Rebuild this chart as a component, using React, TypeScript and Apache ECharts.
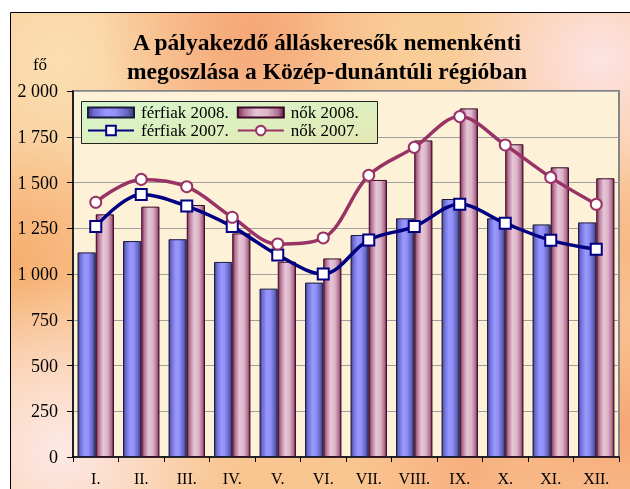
import React, { useEffect, useRef } from "react";
import * as echarts from "echarts";

const months = ["I.", "II.", "III.", "IV.", "V.", "VI.", "VII.", "VIII.", "IX.", "X.", "XI.", "XII."];
const ferfiak2008 = [1118, 1180, 1190, 1066, 920, 953, 1213, 1304, 1410, 1304, 1271, 1282];
const nok2008 = [1326, 1368, 1377, 1222, 1067, 1085, 1514, 1730, 1905, 1709, 1583, 1523];
const ferfiak2007 = [1259, 1435, 1371, 1259, 1104, 1000, 1186, 1259, 1381, 1277, 1184, 1135];
const nok2007 = [1392, 1517, 1477, 1310, 1164, 1197, 1539, 1692, 1860, 1705, 1528, 1381];
const seriesNames = ["férfiak 2008.", "nők 2008.", "férfiak 2007.", "nők 2007."];
const titleLines = ["A pályakezdő álláskeresők nemenkénti", "megoszlása a Közép-dunántúli régióban"];
const unitLabel = "fő";

const FONT = '"Liberation Serif", "Times New Roman", serif';

const fmt = (v: number) =>
  v >= 1000 ? `${Math.floor(v / 1000)} ${String(v % 1000).padStart(3, "0")}` : String(v);

const blueGrad = {
  type: "linear", x: 0, y: 0, x2: 1, y2: 0,
  colorStops: [
    { offset: 0, color: "#3c3c80" },
    { offset: 0.12, color: "#6a6ad0" },
    { offset: 0.4, color: "#9898ff" },
    { offset: 0.6, color: "#9090f8" },
    { offset: 0.85, color: "#6464c0" },
    { offset: 1, color: "#3a3a78" },
  ],
};
const pinkGrad = {
  type: "linear", x: 0, y: 0, x2: 1, y2: 0,
  colorStops: [
    { offset: 0, color: "#7a2a58" },
    { offset: 0.15, color: "#b87898" },
    { offset: 0.4, color: "#e6c6d6" },
    { offset: 0.65, color: "#dcb4c8" },
    { offset: 0.88, color: "#b07090" },
    { offset: 1, color: "#6a2048" },
  ],
};

const spot = (cx: number, cy: number, r: number, color: string) => ({
  type: "circle",
  z: -9,
  silent: true,
  shape: { cx, cy, r },
  style: {
    fill: {
      type: "radial", x: 0.5, y: 0.5, r: 0.5,
      colorStops: [
        { offset: 0, color },
        { offset: 1, color: color.replace(/[\d.]+\)$/, "0)") },
      ],
    },
  },
});

export default function App() {
  const ref = useRef<HTMLDivElement>(null);
  useEffect(() => {
    if (!ref.current) return;
    const chart = echarts.init(ref.current, null, { renderer: "svg" });
    chart.setOption({
      animation: false,
      textStyle: { fontFamily: FONT },
      graphic: [
        { type: "rect", z: -10, silent: true, shape: { x: 0, y: 0, width: 630, height: 489 }, style: { fill: "#ffffff" } },
        {
          type: "group", z: -9, silent: true,
          clipPath: { type: "rect", shape: { x: 11, y: 13, width: 619, height: 476 } },
          children: [
            { type: "rect", z: -9, shape: { x: 11, y: 13, width: 619, height: 476 }, style: { fill: "#f9c898" } },
            spot(60, 60, 160, "rgba(251,226,180,0.9)"),
            spot(250, 30, 150, "rgba(245,160,112,0.85)"),
            spot(430, 40, 130, "rgba(250,206,150,0.8)"),
            spot(600, 60, 150, "rgba(253,228,230,0.95)"),
            spot(15, 260, 130, "rgba(245,168,100,0.8)"),
            spot(60, 450, 170, "rgba(253,234,234,0.95)"),
            spot(300, 490, 150, "rgba(249,196,140,0.8)"),
            spot(470, 470, 120, "rgba(246,168,118,0.8)"),
            spot(625, 430, 130, "rgba(246,160,110,0.85)"),
            spot(625, 250, 100, "rgba(247,180,130,0.8)"),
          ],
        },
        { type: "line", z: -8, silent: true, shape: { x1: 10.5, y1: 12.5, x2: 630, y2: 12.5 }, style: { stroke: "#000", lineWidth: 1 } },
        { type: "line", z: -8, silent: true, shape: { x1: 10.5, y1: 12.5, x2: 10.5, y2: 489 }, style: { stroke: "#000", lineWidth: 1 } },
        {
          type: "text", z: 5, x: 327, y: 42,
          style: { text: titleLines[0], font: `bold 23.5px ${FONT}`, fill: "#000", align: "center", verticalAlign: "middle" },
        },
        {
          type: "text", z: 5, x: 327, y: 71,
          style: { text: titleLines[1], font: `bold 23.5px ${FONT}`, fill: "#000", align: "center", verticalAlign: "middle" },
        },
        {
          type: "text", z: 5, x: 40, y: 64,
          style: { text: unitLabel, font: `17px ${FONT}`, fill: "#000", align: "center", verticalAlign: "middle" },
        },
        {
          type: "rect", z: 1, silent: true,
          shape: { x: 81.5, y: 101.5, width: 296, height: 42 },
          style: {
            fill: {
              type: "linear", x: 0, y: 0, x2: 1, y2: 1,
              colorStops: [
                { offset: 0, color: "#d4f6cc" },
                { offset: 1, color: "#e6e8b4" },
              ],
            },
            stroke: "#222",
            lineWidth: 1,
          },
        },
      ],
      legend: [
        {
          data: [
            { name: seriesNames[0], icon: "rect" },
            { name: seriesNames[1], icon: "rect" },
          ],
          icon: "rect",
          left: 87, top: 104, padding: 0, itemGap: 8,
          itemWidth: 46, itemHeight: 10,
          textStyle: { fontFamily: FONT, fontSize: 17, color: "#000", padding: [0, 0, 0, 2] },
        },
        {
          data: [seriesNames[2], seriesNames[3]],
          left: 87, top: 122, padding: 0, itemGap: 8,
          itemWidth: 46, itemHeight: 12,
          textStyle: { fontFamily: FONT, fontSize: 17, color: "#000", padding: [0, 0, 0, 2] },
        },
      ],
      grid: {
        left: 73, right: 11, top: 91, bottom: 32,
        show: true, backgroundColor: "#fdf2d8", borderColor: "#858585", borderWidth: 2,
      },
      xAxis: {
        type: "category",
        data: months,
        axisLine: { lineStyle: { color: "#000", width: 1.5 } },
        axisTick: { show: true, length: 5, lineStyle: { color: "#000" } },
        axisLabel: { fontFamily: FONT, fontSize: 16, color: "#000", margin: 13 },
      },
      yAxis: {
        type: "value",
        min: 0, max: 2000, interval: 250,
        axisLine: { show: true, lineStyle: { color: "#000", width: 1.5 } },
        axisTick: { show: true, length: 6, lineStyle: { color: "#000" } },
        axisLabel: { fontFamily: FONT, fontSize: 18, color: "#000", margin: 15, formatter: fmt },
        splitLine: { lineStyle: { color: "#a0a0a0", width: 1 } },
      },
      series: [
        {
          name: seriesNames[0], type: "bar", data: ferfiak2008,
          barGap: "0%", barCategoryGap: "20%",
          itemStyle: { color: blueGrad, borderColor: "#1a1a3a", borderWidth: 1 },
        },
        {
          name: seriesNames[1], type: "bar", data: nok2008,
          barGap: "0%", barCategoryGap: "20%",
          itemStyle: { color: pinkGrad, borderColor: "#3a0a24", borderWidth: 1 },
        },
        {
          name: seriesNames[2], type: "line", data: ferfiak2007, z: 3,
          smooth: 0.35, symbol: "rect", symbolSize: 11,
          lineStyle: { color: "#000080", width: 3.5 },
          itemStyle: { color: "#ffffff", borderColor: "#000080", borderWidth: 2 },
        },
        {
          name: seriesNames[3], type: "line", data: nok2007, z: 3,
          smooth: 0.35, symbol: "circle", symbolSize: 11,
          lineStyle: { color: "#993366", width: 3.5 },
          itemStyle: { color: "#ffffff", borderColor: "#993366", borderWidth: 2 },
        },
      ],
    });
    return () => chart.dispose();
  }, []);
  return (
    <div
      ref={ref}
      style={{ position: "fixed", left: 0, top: 0, width: 630, height: 489 }}
    />
  );
}
